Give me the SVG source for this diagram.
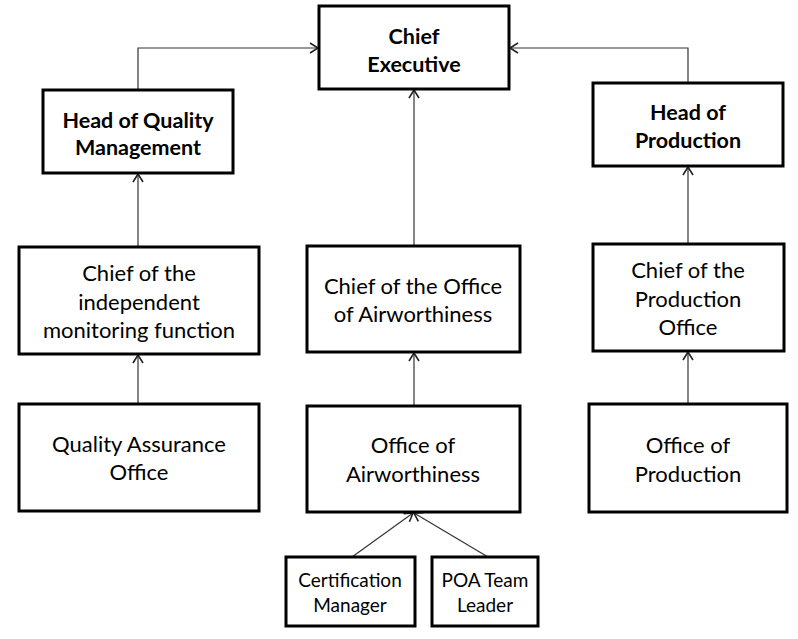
<svg xmlns="http://www.w3.org/2000/svg" width="798" height="639" viewBox="0 0 798 639">
<defs>
<marker id="arr" markerUnits="userSpaceOnUse" markerWidth="14" markerHeight="14" refX="11" refY="7" orient="auto">
<path d="M3,2 L11,7 L3,12" fill="none" stroke="#222" stroke-width="1.6"/>
</marker>
<style>
.box{fill:#fff;stroke:#000;stroke-width:3}
.t{font-family:Lato,"Liberation Sans",sans-serif;font-size:22px;fill:#000;text-anchor:middle}
.b{font-weight:bold;font-size:21.5px}
.s{font-size:19px}
.c{fill:none;stroke:#333;stroke-width:1.2;marker-end:url(#arr)}
</style>
</defs>
<rect width="798" height="639" fill="#fff"/>
<g id="connectors">
<path class="c" d="M138,90 V48 H318"/>
<path class="c" d="M688,83 V48 H510"/>
<path class="c" d="M138,247 V174"/>
<path class="c" d="M138,404 V355"/>
<path class="c" d="M414,246 V90"/>
<path class="c" d="M414,406 V353"/>
<path class="c" d="M688,244 V167"/>
<path class="c" d="M688,404 V352"/>
<path class="c" d="M352,557 L413,513"/>
<path class="c" d="M488,557 L414,513"/>
</g>
<g id="chief-executive">
<rect class="box" x="319" y="6" width="190" height="83"/>
<text class="t b" x="414" y="44">Chief</text>
<text class="t b" x="414" y="72">Executive</text>
</g>
<g id="head-quality">
<rect class="box" x="43" y="90" width="190" height="83"/>
<text class="t b" x="138" y="128">Head of Quality</text>
<text class="t b" x="138" y="155">Management</text>
</g>
<g id="head-production">
<rect class="box" x="593" y="83" width="190" height="83"/>
<text class="t b" x="688" y="120">Head of</text>
<text class="t b" x="688" y="148">Production</text>
</g>
<g id="chief-monitoring">
<rect class="box" x="19" y="247" width="240" height="107"/>
<text class="t" x="139" y="281">Chief of the</text>
<text class="t" x="139" y="310">independent</text>
<text class="t" x="139" y="338">monitoring function</text>
</g>
<g id="chief-airworthiness">
<rect class="box" x="307" y="246" width="213" height="106"/>
<text class="t" x="413" y="294">Chief of the Office</text>
<text class="t" x="413" y="322">of Airworthiness</text>
</g>
<g id="chief-production">
<rect class="box" x="593" y="244" width="191" height="107"/>
<text class="t" x="688" y="278">Chief of the</text>
<text class="t" x="688" y="307">Production</text>
<text class="t" x="688" y="335">Office</text>
</g>
<g id="qa-office">
<rect class="box" x="19" y="404" width="240" height="107"/>
<text class="t" x="139" y="452">Quality Assurance</text>
<text class="t" x="139" y="480">Office</text>
</g>
<g id="office-airworthiness">
<rect class="box" x="307" y="406" width="213" height="106"/>
<text class="t" x="413" y="453">Office of</text>
<text class="t" x="413" y="482">Airworthiness</text>
</g>
<g id="office-production">
<rect class="box" x="589" y="404" width="198" height="108"/>
<text class="t" x="688" y="453">Office of</text>
<text class="t" x="688" y="482">Production</text>
</g>
<g id="certification-manager">
<rect class="box" x="286" y="557" width="129" height="69"/>
<text class="t s" x="350" y="587">Certification</text>
<text class="t s" x="350" y="612">Manager</text>
</g>
<g id="poa-team-leader">
<rect class="box" x="432" y="557" width="106" height="69"/>
<text class="t s" x="485" y="587">POA Team</text>
<text class="t s" x="485" y="612">Leader</text>
</g>
</svg>
